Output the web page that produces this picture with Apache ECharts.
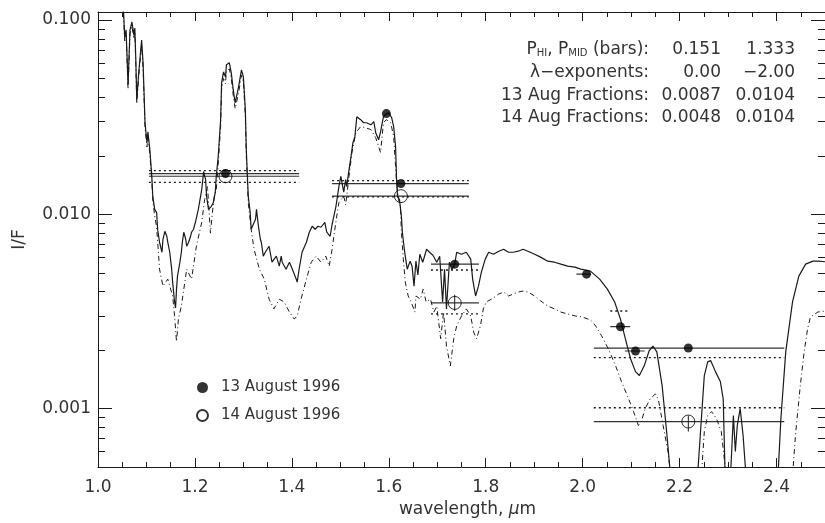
<!DOCTYPE html>
<html>
<head>
<meta charset="utf-8">
<script src="https://cdn.jsdelivr.net/npm/echarts@6/dist/echarts.min.js"></script>
<style>
  html, body { margin: 0; padding: 0; background: #fff; }
  #chart { width: 825px; height: 523px; }
</style>
</head>
<body>
<div id="chart"></div>
<script>
// spectrum, 13 Aug (solid)
var solidWl = [1.050,1.053,1.055,1.058,1.062,1.066,1.070,1.072,1.074,1.076,1.078,1.080,1.084,1.090,1.093,1.097,1.101,1.103,1.107,1.111,1.113,1.117,1.121,1.123,1.127,1.132,1.134,1.138,1.142,1.144,1.148,1.152,1.154,1.158,1.160,1.162,1.164,1.169,1.172,1.174,1.177,1.181,1.183,1.187,1.191,1.193,1.197,1.201,1.207,1.214,1.218,1.222,1.224,1.228,1.232,1.234,1.238,1.242,1.244,1.248,1.253,1.255,1.259,1.263,1.265,1.271,1.275,1.279,1.283,1.290,1.296,1.300,1.304,1.306,1.310,1.314,1.316,1.325,1.327,1.331,1.335,1.337,1.341,1.345,1.349,1.353,1.359,1.368,1.374,1.378,1.380,1.388,1.395,1.401,1.409,1.411,1.415,1.421,1.430,1.436,1.442,1.448,1.454,1.460,1.468,1.472,1.479,1.483,1.491,1.497,1.501,1.507,1.511,1.513,1.518,1.522,1.526,1.530,1.534,1.542,1.548,1.554,1.563,1.569,1.573,1.579,1.583,1.585,1.589,1.593,1.600,1.606,1.610,1.614,1.616,1.618,1.622,1.626,1.628,1.632,1.634,1.638,1.644,1.648,1.652,1.656,1.660,1.664,1.670,1.678,1.684,1.691,1.699,1.705,1.711,1.715,1.719,1.725,1.730,1.736,1.740,1.750,1.760,1.769,1.773,1.779,1.785,1.791,1.799,1.806,1.816,1.827,1.837,1.847,1.857,1.867,1.877,1.887,1.901,1.913,1.928,1.942,1.955,1.969,1.984,1.996,2.016,2.035,2.051,2.066,2.078,2.088,2.099,2.109,2.117,2.127,2.137,2.145,2.153,2.164,2.174,2.180,2.200,2.237,2.245,2.251,2.258,2.264,2.274,2.284,2.290,2.294,2.300,2.305,2.311,2.315,2.319,2.325,2.331,2.337,2.360,2.403,2.409,2.419,2.433,2.446,2.460,2.475,2.487,2.500];
var solidIF = [0.13,0.107,0.0818,0.0889,0.0464,0.0889,0.0977,0.0965,0.0838,0.0910,0.0624,0.0389,0.0535,0.0790,0.0602,0.0296,0.0234,0.0266,0.0215,0.0157,0.0124,0.0106,0.0102,0.00838,0.00718,0.00638,0.00744,0.00818,0.00771,0.00718,0.00638,0.00522,0.00448,0.00354,0.0033,0.00412,0.00481,0.00567,0.00638,0.00718,0.00809,0.00744,0.00685,0.00718,0.00771,0.00809,0.00838,0.00910,0.0106,0.0134,0.0166,0.0151,0.0124,0.0106,0.0104,0.0110,0.0115,0.0130,0.0157,0.0198,0.0307,0.0475,0.0541,0.0510,0.0588,0.0602,0.0535,0.0438,0.0375,0.0453,0.0554,0.0510,0.0345,0.0215,0.0124,0.0102,0.00838,0.00943,0.0106,0.00868,0.00744,0.00718,0.00609,0.00638,0.00638,0.00685,0.00567,0.00609,0.00541,0.00609,0.00567,0.00522,0.00567,0.00522,0.00464,0.00448,0.00522,0.00638,0.00718,0.00809,0.00868,0.00838,0.00868,0.00858,0.00910,0.00809,0.00771,0.00889,0.0110,0.0139,0.0157,0.0130,0.0151,0.0139,0.0170,0.0198,0.0234,0.0251,0.0318,0.0307,0.0296,0.0296,0.0289,0.0300,0.0263,0.0242,0.0266,0.0283,0.0318,0.0326,0.0333,0.0314,0.0283,0.0223,0.0151,0.0124,0.0119,0.00977,0.00809,0.00661,0.00609,0.00522,0.00574,0.00541,0.00427,0.00574,0.00487,0.00623,0.00567,0.00661,0.00638,0.00616,0.00567,0.00609,0.00354,0.00522,0.00326,0.00567,0.0052,0.00554,0.00638,0.00623,0.00638,0.00588,0.00464,0.00380,0.00427,0.00504,0.00588,0.00638,0.00623,0.00646,0.00661,0.00638,0.00638,0.00646,0.00661,0.00646,0.00623,0.00602,0.00574,0.00567,0.00554,0.00541,0.00535,0.00522,0.00510,0.00464,0.00412,0.00354,0.00289,0.00229,0.00180,0.00155,0.00148,0.00166,0.00198,0.00210,0.00196,0.00131,0.000727,0.00049,0.0003,0.00045,0.000889,0.00148,0.00174,0.00177,0.00155,0.00138,0.00112,0.00045,0.0003,0.00045,0.000921,0.000602,0.000818,0.00100,0.000727,0.00045,0.0003,0.00045,0.000889,0.00196,0.00354,0.00481,0.00554,0.00574,0.00574,0.0057];

// spectrum, 14 Aug (dash-dot)
var dashWl = [1.050,1.053,1.055,1.058,1.062,1.066,1.070,1.072,1.074,1.076,1.078,1.080,1.084,1.090,1.093,1.097,1.101,1.103,1.107,1.111,1.113,1.117,1.121,1.127,1.134,1.144,1.154,1.158,1.162,1.166,1.172,1.183,1.193,1.203,1.214,1.220,1.226,1.232,1.236,1.240,1.244,1.248,1.253,1.255,1.259,1.263,1.265,1.271,1.275,1.279,1.283,1.290,1.296,1.300,1.304,1.306,1.310,1.314,1.316,1.322,1.333,1.343,1.353,1.363,1.374,1.384,1.395,1.405,1.411,1.419,1.430,1.440,1.450,1.460,1.470,1.477,1.483,1.491,1.497,1.507,1.511,1.518,1.524,1.532,1.542,1.552,1.563,1.573,1.579,1.583,1.589,1.595,1.604,1.610,1.614,1.616,1.620,1.624,1.626,1.630,1.634,1.640,1.646,1.654,1.656,1.665,1.671,1.677,1.686,1.693,1.699,1.707,1.713,1.719,1.727,1.734,1.740,1.750,1.760,1.769,1.775,1.781,1.789,1.795,1.801,1.812,1.827,1.837,1.847,1.857,1.867,1.877,1.887,1.901,1.913,1.928,1.942,1.955,1.969,1.984,2.000,2.016,2.027,2.039,2.053,2.068,2.080,2.095,2.105,2.115,2.121,2.129,2.139,2.150,2.156,2.166,2.176,2.182,2.200,2.245,2.251,2.258,2.266,2.276,2.286,2.296,2.320,2.400,2.433,2.439,2.449,2.457,2.464,2.470,2.485,2.500];
var dashIF = [0.125,0.102,0.078,0.085,0.044,0.085,0.093,0.092,0.080,0.087,0.059,0.037,0.051,0.075,0.057,0.028,0.0222,0.0252,0.0204,0.0149,0.0118,0.0098,0.00858,0.00522,0.00427,0.00464,0.00380,0.00300,0.00221,0.00290,0.00337,0.00522,0.00464,0.00685,0.00910,0.0119,0.0139,0.0080,0.0102,0.0124,0.0134,0.0180,0.0283,0.0438,0.050,0.047,0.055,0.056,0.050,0.041,0.035,0.042,0.052,0.048,0.032,0.020,0.0115,0.0093,0.00838,0.00661,0.00522,0.00464,0.00366,0.00326,0.00366,0.00354,0.00314,0.00289,0.00300,0.00366,0.00464,0.00567,0.00609,0.00567,0.00609,0.00541,0.00661,0.00921,0.0115,0.0124,0.0112,0.0157,0.0208,0.0263,0.0283,0.0279,0.0273,0.0248,0.0223,0.0208,0.0296,0.0307,0.0296,0.0251,0.0176,0.0146,0.0119,0.0110,0.00809,0.00588,0.00448,0.00380,0.00354,0.00314,0.00380,0.00366,0.00412,0.00354,0.00366,0.00314,0.00337,0.00229,0.00314,0.00210,0.00166,0.00229,0.00266,0.00300,0.00326,0.00300,0.00248,0.00229,0.00266,0.00326,0.00354,0.00366,0.00389,0.00398,0.00380,0.00389,0.00398,0.00403,0.00398,0.00380,0.00359,0.00337,0.00326,0.00314,0.00307,0.00300,0.00296,0.00286,0.00266,0.00237,0.00203,0.00166,0.00138,0.00112,0.000965,0.000818,0.000858,0.00100,0.00112,0.00119,0.00112,0.000818,0.000602,0.00045,0.0003,0.00045,0.000762,0.000921,0.000965,0.000889,0.000762,0.00045,0.0003,0.0003,0.00045,0.000727,0.00131,0.00196,0.00257,0.00296,0.00314,0.00318];

// broad filters: edges and fitted levels
var bandLo = [1.105, 1.483, 1.687, 2.023];
var bandHi = [1.415, 1.765, 1.786, 2.416];
var fit13 = [0.0162, 0.0144, 0.00554, 0.00205];
var alt13 = [0.0168, 0.0149, 0.00517, 0.00183];
var fit14 = [0.0157, 0.0124, 0.00350, 0.000858];
var alt14 = [0.0146, 0.0123, 0.00307, 0.00101];

// narrow filters
var narrowLo = [1.987, 2.057, 2.087];
var narrowHi = [2.017, 2.098, 2.128];
var narrowIF = [0.00492, 0.00264, 0.00198];
var narrowAlt = [null, 0.00318, null];

// measured points
var pt13Wl = [1.263, 1.595, 1.625, 1.736, 2.008, 2.078, 2.109, 2.218];
var pt13IF = [0.0162, 0.0330, 0.0144, 0.00554, 0.00492, 0.00264, 0.00198, 0.00205];
var pt14Wl = [1.263, 1.625, 1.736, 2.218];
var pt14IF = [0.0157, 0.0124, 0.00350, 0.000858];
var err14Lo = [null, null, 0.00318, 0.000762];
var err14Hi = [null, null, 0.00385, 0.000921];

// axis ticks
var xMajor = [1.0, 1.2, 1.4, 1.6, 1.8, 2.0, 2.2, 2.4];
var yMajor = [0.001, 0.01, 0.1];

// fit parameters text
var paramNames = ['{n|P}{s|HI}{n|, P}{s|MID}{n| (bars):}', 'λ−exponents:', '13 Aug Fractions:', '14 Aug Fractions:'];
var paramHi = ['0.151', '0.00', '0.0087', '0.0048'];
var paramMid = ['1.333', '−2.00', '0.0104', '0.0104'];

var FONT = 'DejaVu Sans';
var INK = '#1a1a1a';

function zip(xs, ys) {
  return xs.map(function (x, i) { return [x, ys[i]]; });
}

var xMinor = [];
for (var k = 1; k < 30; k++) {
  if (k % 4 !== 0) xMinor.push(+(1 + k * 0.05).toFixed(2));
}
var yMinor = [];
[0.0001, 0.001, 0.01].forEach(function (d) {
  for (var m = 2; m <= 9; m++) {
    var v = +(d * m).toPrecision(2);
    if (v >= 0.0005 && v <= 0.11) yMinor.push(v);
  }
});

function xAx(pos, ticks, len, withLabels) {
  return {
    type: 'value', position: pos, min: 1.0, max: 2.5, interval: 0.2,
    axisLine: { show: withLabels !== null, lineStyle: { color: INK, width: 1 } },
    axisTick: { show: true, inside: true, length: len, customValues: ticks, lineStyle: { color: INK } },
    axisLabel: withLabels ? {
      show: true, customValues: xMajor, margin: 12, color: '#333', fontSize: 17, fontFamily: FONT,
      formatter: function (v) { return v.toFixed(1); }
    } : { show: false },
    splitLine: { show: false }
  };
}
function yAx(pos, ticks, len, withLabels) {
  return {
    type: 'log', logBase: 10, position: pos, min: 0.0005, max: 0.11,
    axisLine: { show: withLabels !== null, lineStyle: { color: INK, width: 1 } },
    axisTick: { show: true, inside: true, length: len, customValues: ticks, lineStyle: { color: INK } },
    axisLabel: withLabels ? {
      show: true, customValues: yMajor, margin: 7, color: '#333', fontSize: 17, fontFamily: FONT,
      formatter: function (v) { return v.toFixed(3); }
    } : { show: false },
    splitLine: { show: false }
  };
}

var xAxes = [
  xAx('bottom', xMajor, 9, true),
  xAx('bottom', xMinor, 5, null),
  xAx('top', xMajor, 9, false),
  xAx('top', xMinor, 5, null)
];
xAxes[0].name = '{n|wavelength, }{i|μ}{n|m}';
xAxes[0].nameLocation = 'middle';
xAxes[0].nameGap = 28;
xAxes[0].nameTextStyle = {
  padding: [0, 0, 0, 12],
  rich: {
    n: { fontSize: 17, fontFamily: FONT, color: '#333' },
    i: { fontSize: 17, fontFamily: FONT, fontStyle: 'italic', color: '#333' }
  }
};

var yAxes = [
  yAx('left', yMajor, 14, true),
  yAx('left', yMinor, 7, null),
  yAx('right', yMajor, 14, false),
  yAx('right', yMinor, 7, null)
];
yAxes[0].name = 'I/F';
yAxes[0].nameLocation = 'middle';
yAxes[0].nameGap = 70;
yAxes[0].nameTextStyle = { fontSize: 17, fontFamily: FONT, color: '#333' };

var series = [
  {
    name: 'solid', type: 'line', data: zip(solidWl, solidIF),
    symbol: 'none', lineStyle: { color: INK, width: 1.2 }, z: 3
  },
  {
    name: 'dashdot', type: 'line', data: zip(dashWl, dashIF),
    symbol: 'none', lineStyle: { color: INK, width: 1, type: [5, 3, 1, 3] }, z: 3
  }
];

function seg(x0, x1, y, style) {
  series.push({
    type: 'line', data: [[x0, y], [x1, y]], symbol: 'none',
    lineStyle: style, z: 2, silent: true
  });
}
var solidStyle = { color: '#333', width: 1.2 };
var dotStyle = { color: INK, width: 1.3, type: [2, 3] };
bandLo.forEach(function (lo, i) {
  seg(lo, bandHi[i], fit13[i], solidStyle);
  seg(lo, bandHi[i], alt13[i], dotStyle);
  seg(lo, bandHi[i], fit14[i], solidStyle);
  seg(lo, bandHi[i], alt14[i], dotStyle);
});
narrowLo.forEach(function (lo, i) {
  seg(lo, narrowHi[i], narrowIF[i], solidStyle);
  if (narrowAlt[i] !== null) seg(lo, narrowHi[i], narrowAlt[i], dotStyle);
});
pt14Wl.forEach(function (wl, i) {
  if (err14Lo[i] === null) return;
  series.push({
    type: 'line', data: [[wl, err14Lo[i]], [wl, err14Hi[i]]], symbol: 'none',
    lineStyle: { color: INK, width: 1 }, z: 2, silent: true
  });
});

series.push({
  name: '13 August 1996', type: 'scatter', data: zip(pt13Wl, pt13IF),
  symbol: 'circle', symbolSize: 9, itemStyle: { color: '#000' }, z: 5
});
series.push({
  name: '14 August 1996', type: 'scatter', data: zip(pt14Wl, pt14IF),
  symbol: 'circle', symbolSize: 13,
  itemStyle: { color: 'rgba(0,0,0,0)', borderColor: '#000', borderWidth: 1 }, z: 5
});

var graphics = [];
var rowY = [50, 73, 96, 118];
var textBase = { fontSize: 17, fontFamily: FONT, fill: '#333', verticalAlign: 'middle' };
paramNames.forEach(function (name, i) {
  graphics.push({
    type: 'text', x: 649, y: rowY[i],
    style: Object.assign({}, textBase, {
      text: name.indexOf('{') === 0 ? name : '{n|' + name + '}', align: 'right',
      rich: {
        n: { fontSize: 17, fontFamily: FONT, color: '#333' },
        s: { fontSize: 10, fontFamily: FONT, color: '#333', verticalAlign: 'bottom', padding: [7, 0, 0, 0] }
      }
    })
  });
  graphics.push({
    type: 'text', x: 721, y: rowY[i],
    style: Object.assign({}, textBase, { text: paramHi[i], align: 'right' })
  });
  graphics.push({
    type: 'text', x: 795, y: rowY[i],
    style: Object.assign({}, textBase, { text: paramMid[i], align: 'right' })
  });
});

var myChart = echarts.init(document.getElementById('chart'), null, { renderer: 'canvas' });

var option = {
  animation: false,
  backgroundColor: '#fff',
  grid: { left: 98, top: 12, width: 730, height: 457, containLabel: false },
  legend: {
    data: ['13 August 1996', '14 August 1996'],
    orient: 'vertical', left: 191, top: 375, itemGap: 13,
    itemWidth: 11, itemHeight: 11,
    textStyle: { fontSize: 15, fontFamily: FONT, color: '#333', padding: [0, 0, 0, 8] },
    selectedMode: false
  },
  xAxis: xAxes,
  yAxis: yAxes,
  series: series.map(function (s) {
    s.xAxisIndex = 0; s.yAxisIndex = 0; s.animation = false;
    return s;
  }),
  graphic: graphics
};

myChart.setOption(option);
window.addEventListener('resize', myChart.resize);
</script>
</body>
</html>
